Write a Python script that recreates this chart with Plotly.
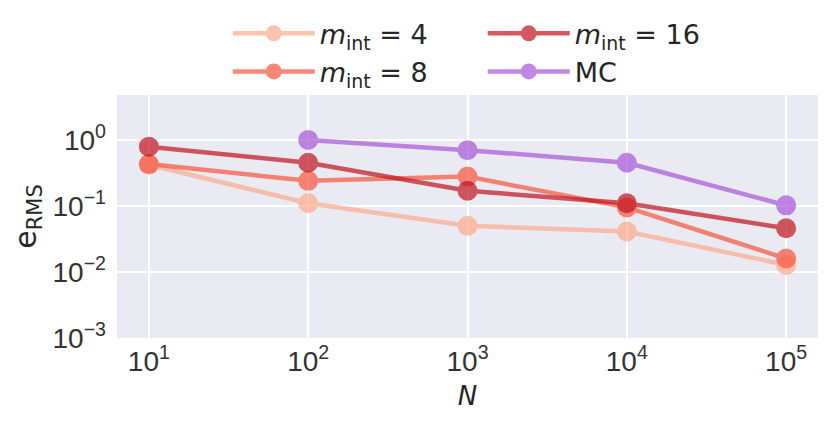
import plotly.graph_objects as go

N = [10, 100, 1000, 10000, 100000]
N_mc = [100, 1000, 10000, 100000]
err_m4 = [0.42, 0.11, 0.050, 0.041, 0.0128]
err_m8 = [0.43, 0.24, 0.278, 0.095, 0.016]
err_m16 = [0.79, 0.45, 0.17, 0.11, 0.046]
err_mc = [1.0, 0.70, 0.45, 0.102]

x_tickvals = [10, 100, 1000, 10000, 100000]
x_ticktext = ["10<sup>1</sup>", "10<sup>2</sup>", "10<sup>3</sup>", "10<sup>4</sup>", "10<sup>5</sup>"]
y_tickvals = [1e-3, 1e-2, 1e-1, 1]
y_ticktext = ["10<sup>−3</sup>", "10<sup>−2</sup>", "10<sup>−1</sup>", "10<sup>0</sup>"]

series = [
    ("<i>m</i><sub>int</sub> = 4", N, err_m4, "#fcaa8e", 1),
    ("<i>m</i><sub>int</sub> = 8", N, err_m8, "#f6553d", 3),
    ("<i>m</i><sub>int</sub> = 16", N, err_m16, "#c0141f", 2),
    ("MC", N_mc, err_mc, "#a855d8", 4),
]

fig = go.Figure()
for name, x, y, c, rank in series:
    fig.add_trace(go.Scatter(
        x=x, y=y, name=name, mode="lines+markers",
        line=dict(color=c, width=4.5),
        marker=dict(color=c, size=20),
        opacity=0.7, legendrank=rank,
    ))

tick_font = dict(family="Liberation Sans Narrow, Liberation Sans, sans-serif", size=28, color="#333333")
fig.update_layout(
    width=830, height=423,
    margin=dict(l=109, r=20, t=87, b=93, autoexpand=False),
    plot_bgcolor="#EAEAF2", paper_bgcolor="white",
    font=dict(family="DejaVu Sans", size=21, color="#262626"),
    legend=dict(orientation="h", x=0.158, xanchor="left", y=0.997, yanchor="top",
                yref="container", entrywidth=158, font=dict(size=27),
                itemwidth=82, bgcolor="rgba(0,0,0,0)", tracegroupgap=0),
    xaxis=dict(type="log", range=[0.8, 5.2], tickvals=x_tickvals, ticktext=x_ticktext,
               tickfont=tick_font, ticklabelstandoff=4,
               showgrid=True, gridcolor="white", gridwidth=1.6, zeroline=False, automargin=False,
               showline=False, ticks="", title=dict(text="<i>N</i>", font=dict(size=26), standoff=10)),
    yaxis=dict(type="log", range=[-3, 0.68], tickvals=y_tickvals, ticktext=y_ticktext,
               tickfont=tick_font, ticklabelstandoff=10,
               showgrid=True, gridcolor="white", gridwidth=1.6, zeroline=False, automargin=False,
               showline=False, ticks="", title=dict(text="e<sub>RMS</sub>", font=dict(size=30), standoff=16)),
)
fig.write_html("out.html")
